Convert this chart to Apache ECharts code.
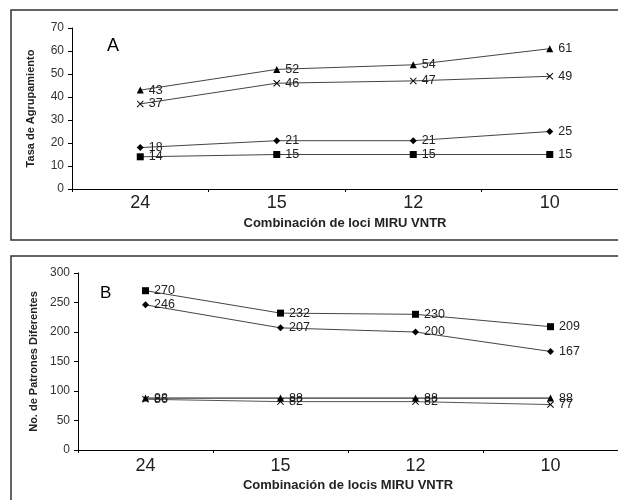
<!DOCTYPE html>
<html>
<head>
<meta charset="utf-8">
<script src="https://cdn.jsdelivr.net/npm/echarts@6/dist/echarts.min.js"></script>
<style>html,body{margin:0;padding:0;background:#fff;}#c{width:618px;height:500px;}</style>
</head>
<body>
<div id="c"></div>
<script>
// ---- Data ----
var categories = ['24', '15', '12', '10'];
// Panel A: Tasa de Agrupamiento
var aTriangle = [43, 52, 54, 61];
var aCross = [37, 46, 47, 49];
var aDiamond = [18, 21, 21, 25];
var aSquare = [14, 15, 15, 15];
// Panel B: No. de Patrones Diferentes
var bSquare = [270, 232, 230, 209];
var bDiamond = [246, 207, 200, 167];
var bTriangle = [88, 88, 88, 88];
var bCross = [86, 82, 82, 77];

var FONT = '"Liberation Sans", Arial, sans-serif';
var CROSS = 'path://M0,1 L1,0 L5,4 L9,0 L10,1 L6,5 L10,9 L9,10 L5,6 L1,10 L0,9 L4,5 Z';

function mkSeries(data, symbol, size, xi, lineColor) {
  return {
    type: 'line', data: data, xAxisIndex: xi, yAxisIndex: xi,
    symbol: symbol, symbolSize: size, showAllSymbol: true,
    lineStyle: { color: lineColor || '#444', width: 1 },
    itemStyle: { color: '#000' },
    label: { show: true, position: 'right', distance: 5, color: '#222', fontSize: 12.5, fontFamily: FONT },
    emphasis: { disabled: true }, animation: false, z: 3
  };
}

function xAxis(gi, name, gap, margin) {
  return {
    type: 'category', gridIndex: gi, data: categories, boundaryGap: true,
    axisLine: { lineStyle: { color: '#000', width: 1 } },
    axisTick: { show: true, inside: false, length: 3, alignWithLabel: false, lineStyle: { color: '#000' } },
    axisLabel: { fontSize: 18, color: '#222', fontFamily: FONT, margin: margin },
    name: name, nameLocation: 'middle', nameGap: gap,
    nameTextStyle: { fontSize: 13, fontWeight: 'bold', color: '#222', fontFamily: FONT }
  };
}
function yAxis(gi, max, interval, name, gap) {
  return {
    type: 'value', gridIndex: gi, min: 0, max: max, interval: interval,
    splitLine: { show: false },
    axisLine: { show: true, lineStyle: { color: '#000', width: 1 } },
    axisTick: { show: true, length: 4, lineStyle: { color: '#000' } },
    axisLabel: { fontSize: 12, color: '#333', fontFamily: FONT, margin: 8 },
    name: name, nameLocation: 'middle', nameGap: gap, nameRotate: 90,
    nameTextStyle: { fontSize: 11, fontWeight: 'bold', color: '#222', fontFamily: FONT }
  };
}

var chart = echarts.init(document.getElementById('c'), null, { renderer: 'canvas' });
chart.setOption({
  animation: false,
  backgroundColor: '#fff',
  grid: [
    { left: 72, top: 28, width: 548, height: 161 },
    { left: 78, top: 273, width: 542, height: 177 }
  ],
  xAxis: [
    xAxis(0, 'Combinación de loci MIRU VNTR', 28, 5),
    xAxis(1, 'Combinación de locis MIRU VNTR', 29, 7)
  ],
  yAxis: [
    yAxis(0, 70, 10, 'Tasa de Agrupamiento', 36),
    yAxis(1, 300, 50, 'No. de Patrones Diferentes', 39)
  ],
  graphic: [
    { type: 'rect', shape: { x: 11, y: 10, width: 640, height: 230 }, style: { fill: 'none', stroke: '#333', lineWidth: 1.5 }, silent: true },
    { type: 'rect', shape: { x: 11, y: 256, width: 640, height: 260 }, style: { fill: 'none', stroke: '#333', lineWidth: 1.5 }, silent: true },
    { type: 'text', left: 107, top: 37, style: { text: 'A', fontSize: 18, fill: '#000', fontFamily: FONT } },
    { type: 'text', left: 100, top: 285, style: { text: 'B', fontSize: 17, fill: '#000', fontFamily: FONT } }
  ],
  series: [
    mkSeries(aTriangle, 'triangle', 7, 0),
    mkSeries(aCross, CROSS, 7, 0),
    mkSeries(aDiamond, 'diamond', 7, 0),
    mkSeries(aSquare, 'rect', 7, 0),
    mkSeries(bSquare, 'rect', 7, 1),
    mkSeries(bDiamond, 'diamond', 7, 1),
    mkSeries(bTriangle, 'triangle', 7, 1, '#000'),
    mkSeries(bCross, CROSS, 7, 1, '#555')
  ]
});
</script>
</body>
</html>
